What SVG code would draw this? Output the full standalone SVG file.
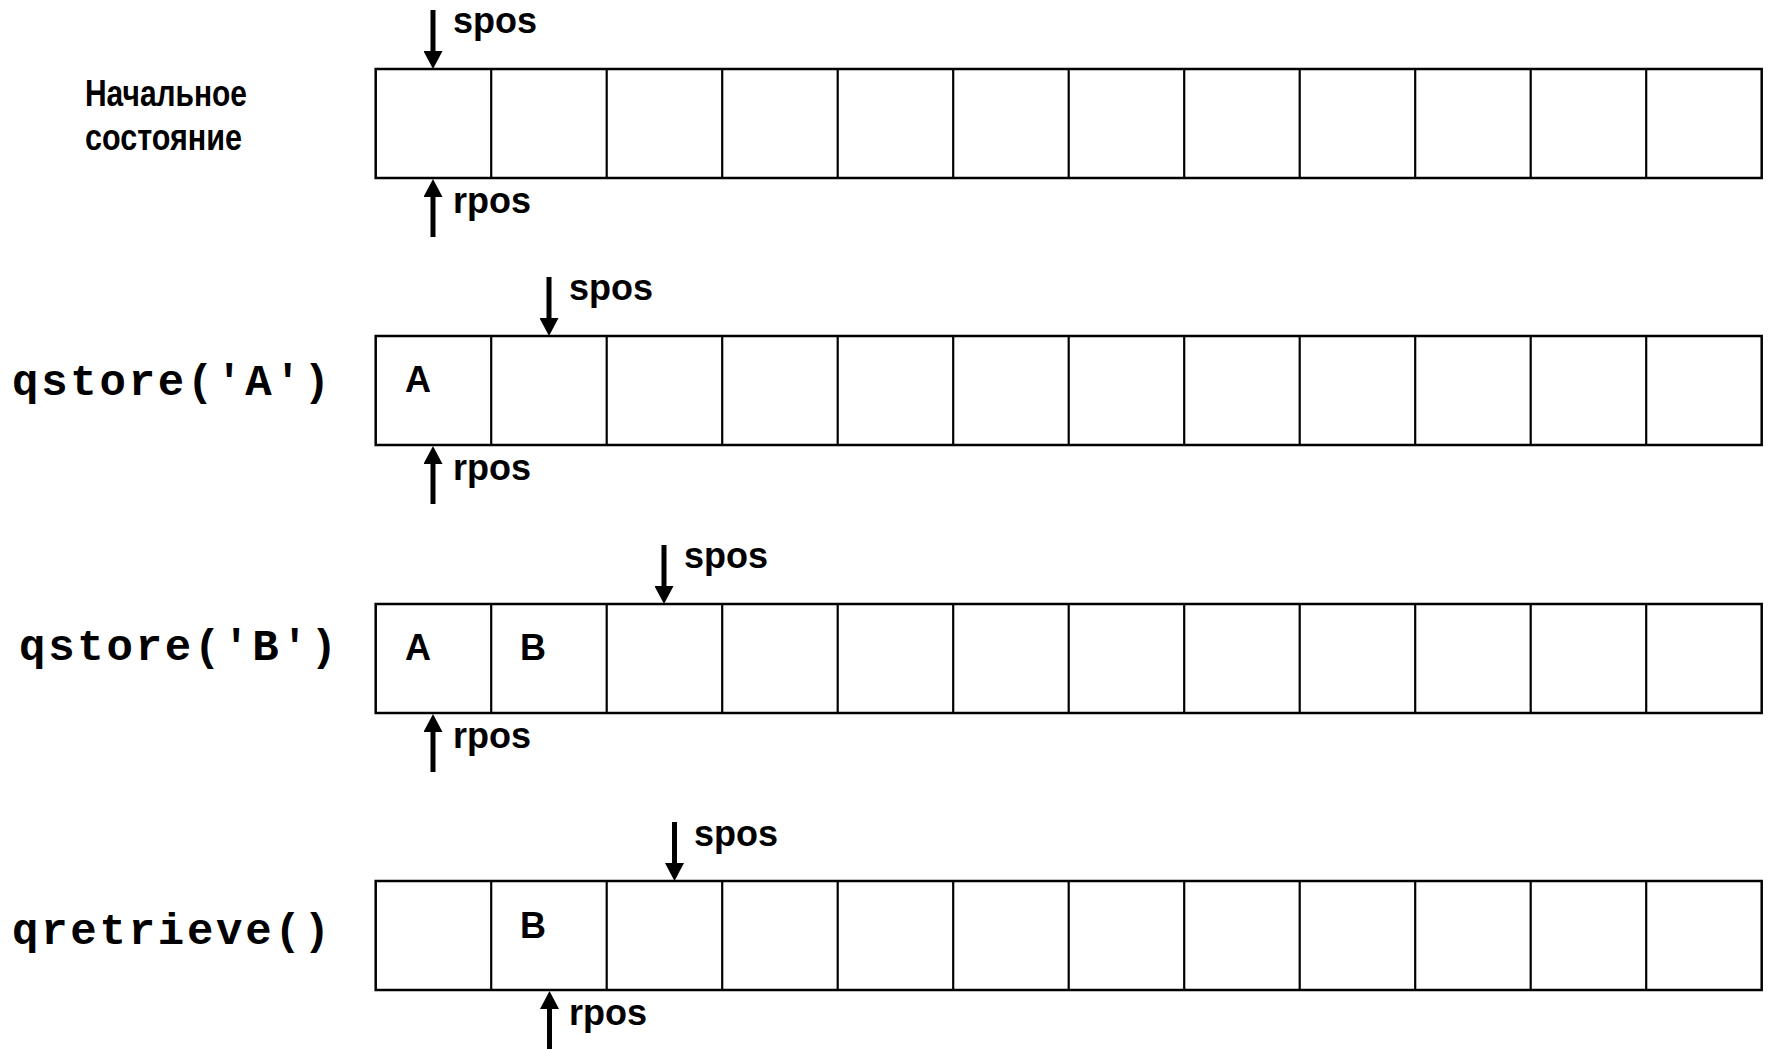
<svg xmlns="http://www.w3.org/2000/svg" width="1774" height="1049" viewBox="0 0 1774 1049">
<style>
  .cell { fill: #ffffff; stroke: #000000; stroke-width: 2.5; }
  .div { stroke: #000000; stroke-width: 2.2; }
  .ptr { stroke: #000000; stroke-width: 5; fill: none; }
  .lbl { font-family: "Liberation Sans", Arial, sans-serif; font-weight: bold; font-size: 36px; fill: #000; }
  .val { font-family: "Liberation Sans", Arial, sans-serif; font-weight: bold; font-size: 36px; fill: #000; }
  .title { font-family: "Liberation Sans", Arial, sans-serif; font-weight: bold; font-size: 37px; fill: #000; }
  .code { font-family: "Liberation Mono", "Courier New", monospace; font-weight: bold; font-size: 44px; fill: #000; }
</style>
<defs>
  <marker id="ah" viewBox="0 0 18 19" refX="7" refY="9.5" markerWidth="18" markerHeight="19" markerUnits="userSpaceOnUse" orient="auto">
    <path d="M0,0 L18,9.5 L0,19 Z" fill="#000"/>
  </marker>
  <g id="row">
    <rect class="cell" x="375.7" y="0" width="1386" height="109"/>
    <line class="div" x1="491.2" y1="0" x2="491.2" y2="109"/>
    <line class="div" x1="606.7" y1="0" x2="606.7" y2="109"/>
    <line class="div" x1="722.2" y1="0" x2="722.2" y2="109"/>
    <line class="div" x1="837.7" y1="0" x2="837.7" y2="109"/>
    <line class="div" x1="953.2" y1="0" x2="953.2" y2="109"/>
    <line class="div" x1="1068.7" y1="0" x2="1068.7" y2="109"/>
    <line class="div" x1="1184.2" y1="0" x2="1184.2" y2="109"/>
    <line class="div" x1="1299.7" y1="0" x2="1299.7" y2="109"/>
    <line class="div" x1="1415.2" y1="0" x2="1415.2" y2="109"/>
    <line class="div" x1="1530.7" y1="0" x2="1530.7" y2="109"/>
    <line class="div" x1="1646.2" y1="0" x2="1646.2" y2="109"/>
  </g>
</defs>

<g id="state-initial">
  <text class="title" x="85" y="106" textLength="162" lengthAdjust="spacingAndGlyphs">Начальное</text>
  <text class="title" x="85" y="150" textLength="157" lengthAdjust="spacingAndGlyphs">состояние</text>
  <use href="#row" y="69"/>
</g>

<g id="state-qstore-a">
  <text class="code" x="12" y="395" textLength="318" lengthAdjust="spacing">qstore('A')</text>
  <use href="#row" y="336"/>
  <text class="val" x="405" y="392">A</text>
</g>

<g id="state-qstore-b">
  <text class="code" x="19" y="660" textLength="318" lengthAdjust="spacing">qstore('B')</text>
  <use href="#row" y="604"/>
  <text class="val" x="405" y="660">A</text>
  <text class="val" x="520" y="660">B</text>
</g>

<g id="state-qretrieve">
  <text class="code" x="12" y="944" textLength="318" lengthAdjust="spacing">qretrieve()</text>
  <use href="#row" y="881"/>
  <text class="val" x="520" y="938">B</text>
</g>

<g id="pointer-labels">
  <text class="lbl" x="453" y="33">spos</text>
  <text class="lbl" x="453" y="213">rpos</text>
  <text class="lbl" x="569" y="300">spos</text>
  <text class="lbl" x="453" y="480">rpos</text>
  <text class="lbl" x="684" y="568">spos</text>
  <text class="lbl" x="453" y="748">rpos</text>
  <text class="lbl" x="694" y="846">spos</text>
  <text class="lbl" x="569" y="1025">rpos</text>
</g>

<g id="connectors">
  <line class="ptr" x1="433" y1="10" x2="433" y2="58" marker-end="url(#ah)"/>
  <line class="ptr" x1="433" y1="237" x2="433" y2="190" marker-end="url(#ah)"/>
  <line class="ptr" x1="549" y1="277" x2="549" y2="325" marker-end="url(#ah)"/>
  <line class="ptr" x1="433" y1="504" x2="433" y2="457" marker-end="url(#ah)"/>
  <line class="ptr" x1="664" y1="545" x2="664" y2="593" marker-end="url(#ah)"/>
  <line class="ptr" x1="433" y1="772" x2="433" y2="725" marker-end="url(#ah)"/>
  <line class="ptr" x1="674.5" y1="822" x2="674.5" y2="870" marker-end="url(#ah)"/>
  <line class="ptr" x1="549.5" y1="1049" x2="549.5" y2="1002" marker-end="url(#ah)"/>
</g>
</svg>
